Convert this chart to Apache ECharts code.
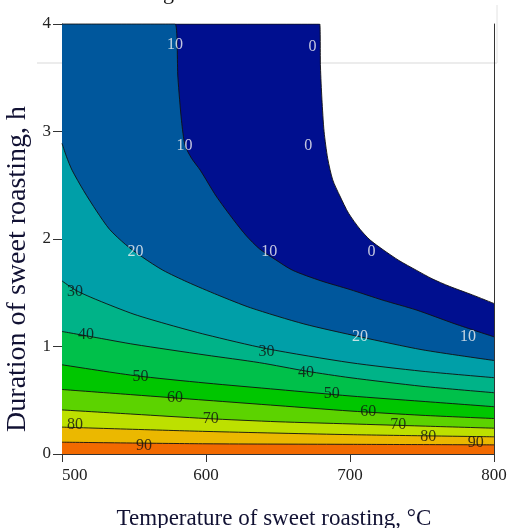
<!DOCTYPE html>
<html>
<head>
<meta charset="utf-8">
<script src="https://cdn.jsdelivr.net/npm/echarts@6/dist/echarts.min.js"></script>
<style>
  html, body { margin: 0; padding: 0; background: #fff; }
  #chart { width: 510px; height: 528px; }
</style>
</head>
<body>
<div id="chart"></div>
<script>
// contour lines, [temperature °C, duration h]
const levels = [0, 10, 20, 30, 40, 50, 60, 70, 80, 90]
const c0 = [[500, 4], [679, 4], [679.5, 3.6], [680.5, 3.3], [682, 3.0], [684.5, 2.75], [688, 2.55], [693, 2.40], [699, 2.24], [707, 2.09], [714, 1.99], [723, 1.90], [734, 1.80], [746, 1.71], [757, 1.63], [769, 1.56], [785, 1.48], [800, 1.40]]
const c10 = [[500, 4], [578.5, 4], [580.5, 3.5], [583, 3.1], [585.5, 2.87], [590, 2.75], [596, 2.64], [607, 2.40], [619, 2.18], [628, 2.03], [637, 1.91], [648, 1.81], [660, 1.71], [680, 1.61], [700, 1.53], [723, 1.43], [746, 1.34], [773, 1.21], [800, 1.09]]
const c20 = [[500, 2.89], [503, 2.77], [507, 2.64], [515, 2.45], [524, 2.26], [533, 2.09], [544, 1.95], [556, 1.83], [570, 1.71], [587, 1.60], [608, 1.48], [631, 1.36], [668, 1.21], [707, 1.09], [750, 0.97], [800, 0.87]]
const c30 = [[500, 1.61], [510, 1.52], [525, 1.43], [550, 1.30], [575, 1.20], [600, 1.11], [642, 0.98], [700, 0.85], [750, 0.77], [800, 0.71]]
const c40 = [[500, 1.14], [525, 1.08], [550, 1.02], [600, 0.92], [637, 0.85], [670, 0.77], [700, 0.71], [750, 0.63], [800, 0.57]]
const c50 = [[500, 0.83], [550, 0.73], [600, 0.66], [650, 0.60], [700, 0.54], [750, 0.49], [800, 0.44]]
const c60 = [[500, 0.60], [550, 0.55], [600, 0.50], [650, 0.45], [700, 0.40], [750, 0.36], [800, 0.33]]
const c70 = [[500, 0.41], [550, 0.37], [600, 0.33], [650, 0.30], [700, 0.28], [750, 0.26], [800, 0.24]]
const c80 = [[500, 0.25], [600, 0.21], [700, 0.18], [800, 0.16]]
const c90 = [[500, 0.11], [600, 0.095], [700, 0.09], [800, 0.085]]
const contours = [c0, c10, c20, c30, c40, c50, c60, c70, c80, c90]

// contour labels [x, y, text]
const whiteLabels = [
  [578.5, 3.81, "10"], [674, 3.79, "0"], [585, 2.87, "10"], [671, 2.87, "0"],
  [551, 1.88, "20"], [644, 1.88, "10"], [715, 1.88, "0"], [707, 1.09, "20"], [782, 1.09, "10"]
]
const blackLabels = [
  [509, 1.51, "30"], [642, 0.95, "30"], [516.7, 1.11, "40"], [669.4, 0.76, "40"],
  [554.6, 0.72, "50"], [687.3, 0.56, "50"], [578.5, 0.52, "60"], [712.7, 0.39, "60"],
  [603.3, 0.33, "70"], [733.5, 0.27, "70"], [509, 0.27, "80"], [754.4, 0.16, "80"],
  [557, 0.08, "90"], [787.3, 0.10, "90"]
]

const xTicks = [500, 600, 700, 800]
const yTicks = [0, 1, 2, 3, 4]

// fill colour below each contour (band just above the level)
const bandColors = ["#000f8f", "#00579c", "#009fa8", "#00b388", "#00c04a", "#00c600", "#5cd300", "#bde000", "#ebb800", "#f26a00"]

const serif = "'Liberation Serif', 'Times New Roman', serif"

const chart = echarts.init(document.getElementById("chart"))

const series = contours.map((c, i) => ({
  name: "c" + levels[i],
  type: "line",
  data: c,
  smooth: 0.25,
  symbol: "none",
  z: 3 + i,
  lineStyle: { color: "#111", width: 0.9 },
  areaStyle: { color: bandColors[i], opacity: 1, origin: "start" }
}))

const labelSeries = (data, color) => ({
  type: "scatter",
  data: data,
  symbolSize: 0,
  z: 20,
  label: {
    show: true,
    position: "inside",
    formatter: p => p.value[2],
    color: color,
    fontFamily: serif,
    fontSize: 16
  }
})

series.push(labelSeries(whiteLabels, "#f4f4f4"))
series.push(labelSeries(blackLabels, "#111"))

chart.setOption({
  animation: false,
  grid: { left: 62, right: 16, top: 24, bottom: 74, outerBoundsMode: "none", containLabel: false },
  graphic: [
    { type: "line", z: 0, shape: { x1: 37, y1: 63, x2: 497, y2: 63 }, style: { stroke: "#d9d9d9", lineWidth: 1 } },
    { type: "line", z: 0, shape: { x1: 497, y1: 5, x2: 497, y2: 63 }, style: { stroke: "#e2e2e2", lineWidth: 1 } },
    { type: "text", left: 163, top: -18, style: { text: "g", font: "22px " + serif, fill: "#111" } }
  ],
  xAxis: [
    {
      type: "value", min: 500, max: 800, interval: 100,
      name: "Temperature of sweet roasting, °C",
      nameLocation: "center", nameGap: 53,
      nameTextStyle: { fontFamily: serif, fontSize: 23, color: "#111133", padding: [0, 8, 0, 0] },
      axisLine: { show: true, lineStyle: { color: "#333", width: 1 } },
      axisTick: { show: true, inside: true, length: 10, lineStyle: { color: "#333" } },
      axisLabel: { fontFamily: serif, fontSize: 17, color: "#222", margin: 13, customValues: xTicks, alignMinLabel: "left" },
      splitLine: { show: false }
    },
    {
      type: "value", position: "top", min: 500, max: 800, interval: 100,
      axisLine: { show: true, lineStyle: { color: "#333", width: 1 } },
      axisTick: { show: true, inside: true, length: 8, lineStyle: { color: "#333" } },
      axisLabel: { show: false },
      splitLine: { show: false }
    }
  ],
  yAxis: [
    {
      type: "value", min: 0, max: 4, interval: 1,
      name: "Duration of sweet roasting, h",
      nameLocation: "center", nameGap: 23,
      nameTextStyle: { fontFamily: serif, fontSize: 28, color: "#111133", padding: [0, 60, 0, 0] },
      axisLine: { show: true, lineStyle: { color: "#444", width: 1 } },
      axisTick: { show: true, length: 9, lineStyle: { color: "#333" } },
      axisLabel: { fontFamily: serif, fontSize: 17, color: "#222", margin: 11, customValues: yTicks },
      splitLine: { show: false }
    },
    {
      type: "value", position: "right", min: 0, max: 4, interval: 1,
      axisLine: { show: true, lineStyle: { color: "#333", width: 1 } },
      axisTick: { show: false },
      axisLabel: { show: false },
      splitLine: { show: false }
    }
  ],
  series: series
})
</script>
</body>
</html>
